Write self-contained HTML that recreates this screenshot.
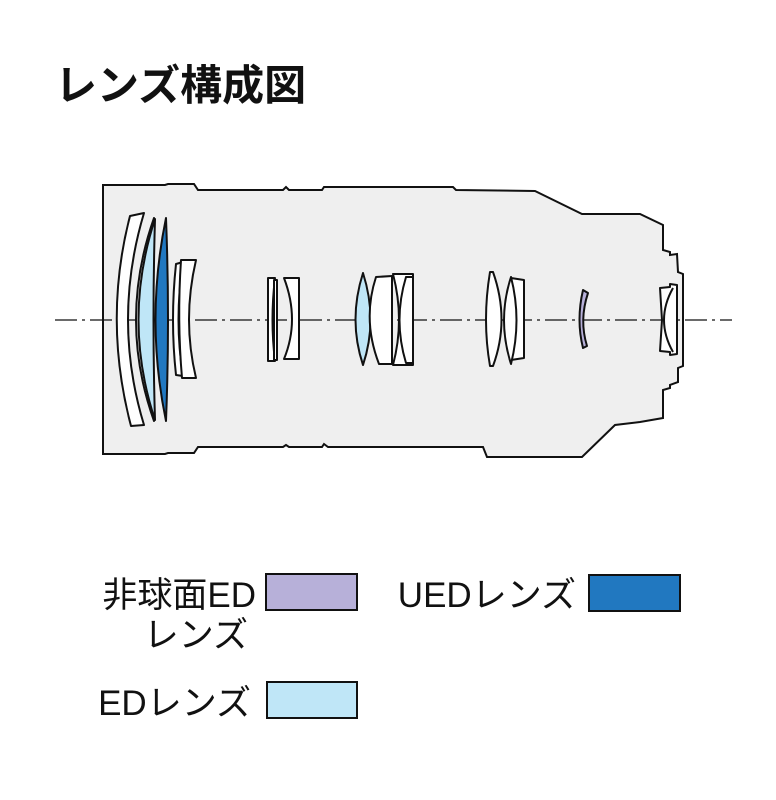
<!DOCTYPE html>
<html><head><meta charset="utf-8"><style>
html,body{margin:0;padding:0;background:#fff;width:776px;height:800px;overflow:hidden}
svg{display:block}
text{font-family:"Liberation Sans","Noto Sans CJK JP",sans-serif;fill:#111}
</style></head><body>
<svg width="776" height="800" viewBox="0 0 776 800">
<text x="55" y="100" font-size="42" font-weight="bold">レンズ構成図</text>
<path d="M103,185 L165,185 L168,184 L194,184 L198,190 L283,190 L286,187 L289,190 L322,190 L324,187 L328,187 L338,187 L453,187 L456,190 L535,191 L582,214 L640,214 L663,225 L663,250 L670,252 L670,255 L677,254 L678,272 L683,274 L683,366 L678,368 L678,382 L670,385 L670,388 L663,390 L663,418 L640,422 L615,425 L582,457 L487,457 L483,447 L453,447 L338,447 L328,447 L324,444 L322,447 L289,447 L286,445 L283,447 L198,447 L194,453 L168,453 L165,454 L103,454 Z" fill="#efefef" stroke="#111" stroke-width="2"/>
<line x1="55" y1="320" x2="732" y2="320" stroke="#111" stroke-width="1.3" stroke-dasharray="22,5,3,5"/>
<g stroke="#111" stroke-width="2" stroke-linejoin="round">
<path d="M130,216 L144,213 Q112,320 144,425 L131,426 Q103,320 130,216 Z" fill="#fff"/>
<path d="M154,218 Q118,320 154,421 L154,421 Q144,320 154,218 Z" fill="#fff"/>
<path d="M155,219 Q122,320 155,420 Q152,320 155,219 Z" fill="#bfe6f7"/>
<path d="M166,218 Q145,320 166,421 Q170,320 166,218 Z" fill="#2178c0"/>
<path d="M176,264 L183,262 Q174,320 183,376 L176,375 Q170,320 176,264 Z" fill="#fff"/>
<path d="M181,260 L196,260 Q182,320 196,378 L182,378 Q177,320 181,260 Z" fill="#fff"/>
<path d="M268,278 L275,278 Q270,320 275,361 L268,361 Z" fill="#fff"/>
<path d="M274,280 L277,280 L277,360 L274,360 Z" fill="#fff"/>
<path d="M284,278 L299,278 L299,359 L284,359 Q300,320 284,278 Z" fill="#fff"/>
<path d="M363,273 Q348,320 363,365 Q378,320 363,273 Z" fill="#bfe6f7"/>
<path d="M376,277 L392,276 L392,364 L379,364 Q362,320 376,277 Z" fill="#fff"/>
<path d="M393,274 L413,274 L413,365 L393,365 Q405,320 393,274 Z" fill="#fff"/>
<path d="M406,277 L413,277 L413,363 L406,363 Q393,320 406,277 Z" fill="#fff"/>
<path d="M490,272 L493,272 Q510,320 493,366 L490,366 Q482,320 490,272 Z" fill="#fff"/>
<path d="M511,278 L524,280 L524,358 L511,360 Z" fill="#fff"/>
<path d="M511,277 Q522,320 511,364 Q497,320 511,277 Z" fill="#fff"/>
<path d="M583,290 L588,293 Q579,320 587,346 L583,348 Q576,320 583,290 Z" fill="#b7b0d9"/>
<path d="M660,288 L670,287 L670,284 L677,285 L677,354 L670,355 L670,352 L660,351 L662,320 Z" fill="#fff"/>
<path d="M673,288 Q655,320 673,352" fill="none"/>
</g>
<g font-size="35">
<text x="256" y="607" text-anchor="end">非球面ED</text>
<text x="248" y="647" text-anchor="end">レンズ</text>
<text x="576" y="607" text-anchor="end">UEDレンズ</text>
<text x="251" y="715" text-anchor="end">EDレンズ</text>
</g>
<rect x="266" y="574" width="91" height="36" fill="#b7b0d9" stroke="#111" stroke-width="2"/>
<rect x="589" y="575" width="91" height="36" fill="#2178c0" stroke="#111" stroke-width="2"/>
<rect x="267" y="682" width="90" height="36" fill="#bfe6f7" stroke="#111" stroke-width="2"/>
</svg>
</body></html>
